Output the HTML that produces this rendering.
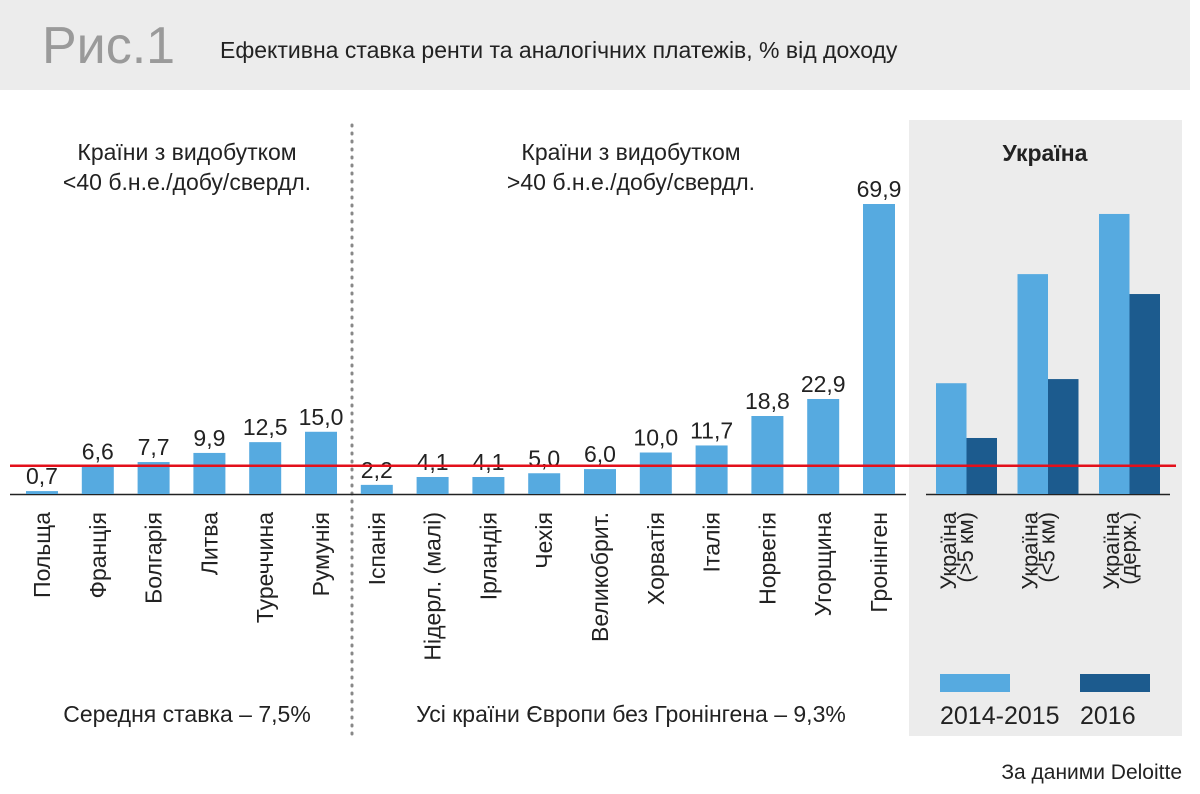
<!DOCTYPE html>
<html><head><meta charset="utf-8"><style>
body{margin:0;background:#fff;}
svg{display:block;font-family:"Liberation Sans","DejaVu Sans",sans-serif;}
</style></head><body>
<svg id="chart" width="1200" height="794" viewBox="0 0 1200 794">
<rect x="0" y="0" width="1190" height="90" fill="#ececec"/>
<text x="42" y="63" font-size="52" fill="#9a9a9a">Рис.1</text>
<text x="220" y="58" font-size="23" fill="#222">Ефективна ставка ренти та аналогічних платежів, % від доходу</text>
<rect x="909" y="120" width="273" height="616" fill="#ececec"/>
<line x1="352" y1="125" x2="352" y2="735" stroke="#888" stroke-width="3" stroke-dasharray="1 7" stroke-linecap="round"/>
<text x="187" y="160" font-size="23" fill="#222" text-anchor="middle">Країни з видобутком</text>
<text x="187" y="190" font-size="23" fill="#222" text-anchor="middle">&lt;40 б.н.е./добу/свердл.</text>
<text x="631" y="160" font-size="23" fill="#222" text-anchor="middle">Країни з видобутком</text>
<text x="631" y="190" font-size="23" fill="#222" text-anchor="middle">&gt;40 б.н.е./добу/свердл.</text>
<text x="1045" y="161" font-size="23" font-weight="bold" fill="#222" text-anchor="middle">Україна</text>
<line x1="10" y1="494.5" x2="906" y2="494.5" stroke="#222" stroke-width="1.5"/>
<line x1="926" y1="494.5" x2="1170" y2="494.5" stroke="#222" stroke-width="1.5"/>
<g id="bars"></g>
<text x="187" y="722" font-size="23" fill="#222" text-anchor="middle">Середня ставка – 7,5%</text>
<text x="631" y="722" font-size="23" fill="#222" text-anchor="middle">Усі країни Європи без Гронінгена – 9,3%</text>
<rect x="940" y="674" width="70" height="18" fill="#56aae0"/>
<rect x="1080" y="674" width="70" height="18" fill="#1c5b8e"/>
<text x="940" y="724" font-size="25" fill="#222">2014-2015</text>
<text x="1080" y="724" font-size="25" fill="#222">2016</text>
<text x="1182" y="779" font-size="21" fill="#222" text-anchor="end">За даними Deloitte</text>
</svg>
<script>
const categories = ["Польща","Франція","Болгарія","Литва","Туреччина","Румунія","Іспанія","Нідерл. (малі)","Ірландія","Чехія","Великобрит.","Хорватія","Італія","Норвегія","Угорщина","Гронінген"];
const values = [0.7,6.6,7.7,9.9,12.5,15.0,2.2,4.1,4.1,5.0,6.0,10.0,11.7,18.8,22.9,69.9];
const valueLabels = ["0,7","6,6","7,7","9,9","12,5","15,0","2,2","4,1","4,1","5,0","6,0","10,0","11,7","18,8","22,9","69,9"];
const ukraineLine1 = ["Україна","Україна","Україна"];
const ukraineLine2 = ["(>5 км)","(<5 км)","(держ.)"];
const ukraine2014 = [26.7,53.0,67.5];
const ukraine2016 = [13.5,27.7,48.2];
const averageLine = [6.8];

const NS="http://www.w3.org/2000/svg";
const base=494, scale=290/69.9;
function y(v){return base - v*scale;}
function xc(i){return 42 + i*55.8;}
function uxc(i){return 951 + i*81.5;}
const g=document.getElementById('bars');
function mk(tag,attrs){const e=document.createElementNS(NS,tag);for(const k in attrs)e.setAttribute(k,attrs[k]);g.appendChild(e);return e;}
categories.forEach((c,i)=>{
  const r=mk('rect',{x:xc(i)-16,y:y(values[i]),width:32,height:base-y(values[i]),fill:'#56aae0'});
  
  
  const t=mk('text',{x:xc(i),y:y(values[i])-7,'font-size':23,fill:'#222','text-anchor':'middle'});
  t.textContent=valueLabels[i];
  
  
  const l=mk('text',{x:0,y:0,'font-size':23,fill:'#222','text-anchor':'end',transform:`translate(${xc(i)+8},512) rotate(-90)`});
  l.textContent=c;
  
  
});
ukraine2014.forEach((v,i)=>{
  const a=mk('rect',{x:uxc(i)-15,y:y(v),width:30.5,height:base-y(v),fill:'#56aae0'});
  
  
  const b=mk('rect',{x:uxc(i)+15.5,y:y(ukraine2016[i]),width:30.5,height:base-y(ukraine2016[i]),fill:'#1c5b8e'});
  
  
  const l1=mk('text',{x:0,y:0,'font-size':22,fill:'#222','text-anchor':'end',transform:`translate(${uxc(i)+5},512) rotate(-90)`});
  l1.textContent=ukraineLine1[i];
  
  
  const l2=mk('text',{x:0,y:0,'font-size':22,fill:'#222','text-anchor':'end',transform:`translate(${uxc(i)+22},512) rotate(-90)`});
  l2.textContent=ukraineLine2[i];
  
  
});
const ln=mk('line',{x1:10,x2:1176,y1:y(averageLine[0]),y2:y(averageLine[0]),stroke:'#e3101b','stroke-width':2.5});


</script>
</body></html>
